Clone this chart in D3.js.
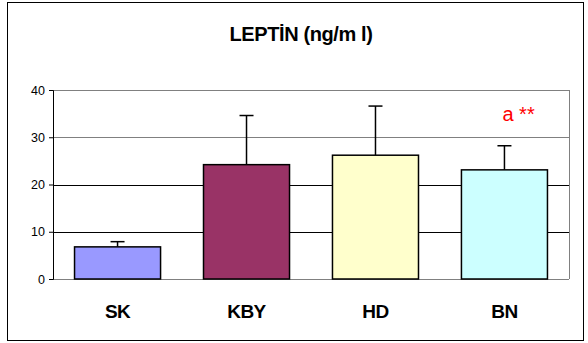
<!DOCTYPE html>
<html>
<head>
<meta charset="utf-8">
<script src="https://cdn.jsdelivr.net/npm/d3@7"></script>
<style>
  body { margin: 0; background: #fff; }
  text { font-family: "Liberation Sans", Arial, sans-serif; }
</style>
</head>
<body>
<svg width="588" height="343"></svg>
<script>
// DATA
const categories = ["SK", "KBY", "HD", "BN"];
const means = [6.8, 24.2, 26.2, 23.1];
const errors = [1.1, 10.4, 10.4, 5.1];
const colors = ["#9999FF", "#993366", "#FFFFCC", "#CCFFFF"];
const yTicks = [0, 10, 20, 30, 40];

const svg = d3.select("svg");
const margin = { top: 90, left: 53, right: 19, bottom: 64 };
const width = +svg.attr("width");
const height = +svg.attr("height");
const innerWidth = width - margin.left - margin.right;
const innerHeight = height - margin.top - margin.bottom;

// outer frame
svg.append("rect")
  .attr("x", 7.5).attr("y", 2.5)
  .attr("width", 576).attr("height", 338)
  .attr("fill", "none").attr("stroke", "#000").attr("stroke-width", 1);

// title
svg.append("text")
  .attr("x", 301).attr("y", 41)
  .attr("text-anchor", "middle")
  .attr("font-size", "20px").attr("font-weight", "bold")
  .attr("letter-spacing", "-0.4")
  .text("LEPTİN (ng/m l)");

// SCALES
const xScale = d3.scaleBand().domain(categories).range([0, innerWidth])
  .paddingInner(0.333)
  .paddingOuter(0.167);
const yScale = d3.scaleLinear().domain([0, 40]).range([innerHeight, 0]);

const g = svg.append("g").attr("transform", `translate(${margin.left},${margin.top})`);

// gridlines
g.selectAll(".grid").data(yTicks.filter(d => d > 0)).enter()
  .append("line")
  .attr("x1", 0).attr("x2", innerWidth)
  .attr("y1", d => Math.round(yScale(d)) + 0.5).attr("y2", d => Math.round(yScale(d)) + 0.5)
  .attr("stroke", d => d >= 30 ? "#808080" : "#000")
  .attr("stroke-width", 1);

// plot frame (right side) and x baseline
g.append("line")
  .attr("x1", innerWidth + 0.5).attr("x2", innerWidth + 0.5)
  .attr("y1", 0).attr("y2", innerHeight)
  .attr("stroke", "#808080");
g.append("line")
  .attr("x1", 0).attr("x2", innerWidth)
  .attr("y1", innerHeight + 0.5).attr("y2", innerHeight + 0.5)
  .attr("stroke", "#808080");

// y axis
const yAxis = g.append("g")
  .call(d3.axisLeft(yScale).tickValues(yTicks).tickSize(4).tickPadding(4));
yAxis.select(".domain").attr("stroke", "#000");
yAxis.selectAll("text").attr("font-size", "12.5px").attr("fill", "#000");

// error bars
const errG = g.selectAll(".err").data(categories).enter().append("g");
errG.append("line")
  .attr("x1", d => xScale(d) + xScale.bandwidth() / 2)
  .attr("x2", d => xScale(d) + xScale.bandwidth() / 2)
  .attr("y1", (d, i) => yScale(means[i]))
  .attr("y2", (d, i) => yScale(means[i] + errors[i]))
  .attr("stroke", "#000").attr("stroke-width", 1.5);
errG.append("line")
  .attr("x1", d => xScale(d) + xScale.bandwidth() / 2 - 7)
  .attr("x2", d => xScale(d) + xScale.bandwidth() / 2 + 7)
  .attr("y1", (d, i) => yScale(means[i] + errors[i]))
  .attr("y2", (d, i) => yScale(means[i] + errors[i]))
  .attr("stroke", "#000").attr("stroke-width", 1.5);

// bars
g.selectAll(".bar").data(categories).enter()
  .append("rect")
  .attr("x", d => xScale(d))
  .attr("y", (d, i) => yScale(means[i]))
  .attr("width", xScale.bandwidth())
  .attr("height", (d, i) => innerHeight - yScale(means[i]))
  .attr("fill", (d, i) => colors[i])
  .attr("stroke", "#000").attr("stroke-width", 1.5);

// category labels
g.selectAll(".cat").data(categories).enter()
  .append("text")
  .attr("x", d => xScale(d) + xScale.bandwidth() / 2)
  .attr("y", innerHeight + 39)
  .attr("text-anchor", "middle")
  .attr("font-size", "19px").attr("font-weight", "bold")
  .attr("letter-spacing", "-0.6")
  .text(d => d);

// significance marker
g.append("text")
  .attr("x", xScale("BN") + xScale.bandwidth() / 2 - 2)
  .attr("y", yScale(33.5))
  .attr("fill", "#FF0000")
  .attr("font-size", "20px")
  .text("a **");
</script>
</body>
</html>
